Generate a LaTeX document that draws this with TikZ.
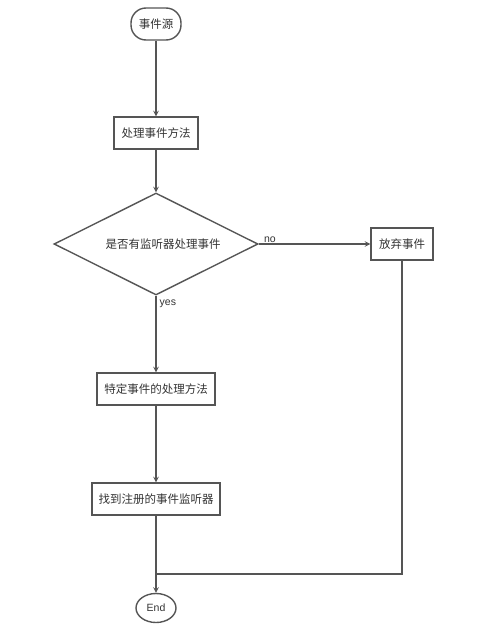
\documentclass[tikz,border=0pt]{standalone}
\usepackage{fontspec}
\setmainfont{Liberation Sans}
\newfontfamily\cjk{Noto Sans CJK SC}
\usetikzlibrary{shapes.geometric}
\definecolor{linegray}{HTML}{555555}
\definecolor{textgray}{HTML}{333333}

\begin{document}
\begin{tikzpicture}[x=1pt, y=-1pt, ->, >=stealth, line width=1.4pt, draw=linegray,
  every node/.style={font=\cjk\fontsize{11.5}{13}\selectfont, text=textgray},
  box/.style={rectangle, draw=linegray, minimum height=32pt, inner sep=0pt},
  term/.style={draw=linegray, minimum height=30pt, inner sep=0pt},
  lbl/.style={font=\fontsize{10.5}{12}\selectfont, inner sep=1pt}]
\useasboundingbox (0,0) rectangle (495,634);
\node[term, rectangle, rounded corners=15pt, minimum width=50pt, minimum height=32pt] (start) at (156,24) {事件源};
\node[box, minimum width=84pt] (proc) at (156,133) {处理事件方法};
\node[diamond, draw=linegray, aspect=2, minimum width=204pt, minimum height=102pt, inner sep=0pt] (check) at (156,244) {\hspace{14pt}是否有监听器处理事件};
\node[box, minimum width=62pt] (drop) at (402,244) {放弃事件};
\node[box, minimum width=118pt] (special) at (156,389) {特定事件的处理方法};
\node[box, minimum width=128pt] (find) at (156,499) {找到注册的事件监听器};
\node[term, ellipse, minimum width=40pt, minimum height=29pt, font=\fontsize{10.5}{12}\selectfont] (end) at (156,608) {End};
\coordinate (join) at (156,574);
\draw (start) -- (proc);
\draw (proc) -- (check);
\draw (check) -- node[lbl, pos=0.1, above] {no} (drop);
\draw (check) -- node[lbl, pos=0.1, right, xshift=2pt] {yes} (special);
\draw (special) -- (find);
\draw (find) -- (end);
\draw[-] (drop) |- (join);
\end{tikzpicture}
\end{document}
